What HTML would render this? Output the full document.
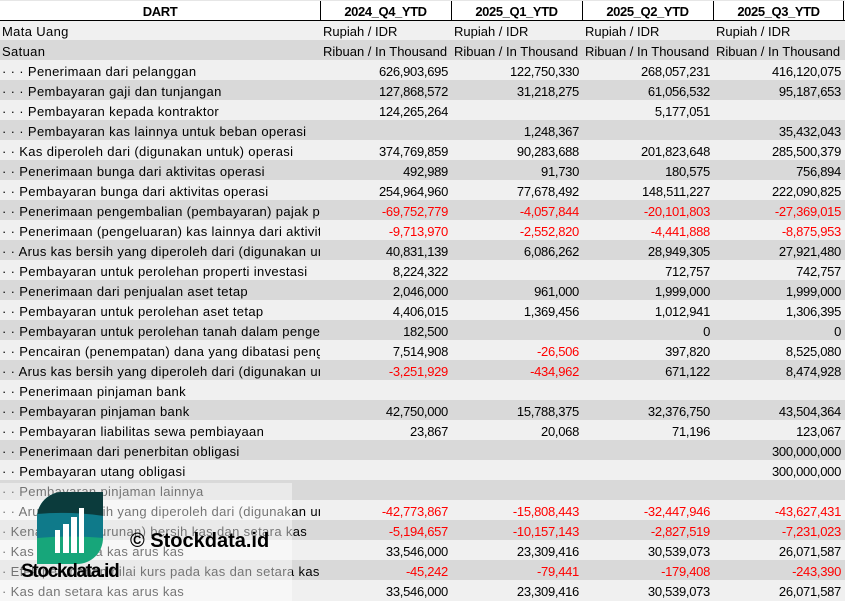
<!DOCTYPE html>
<html><head><meta charset="utf-8">
<style>
*{margin:0;padding:0;box-sizing:border-box;}
html,body{width:845px;height:601px;overflow:hidden;background:#f0f0f0;}
body{position:relative;font-family:"Liberation Sans",Arial,sans-serif;font-size:13px;color:#000;}
.row{position:absolute;left:0;width:845px;height:20px;}
.l{background:#f0f0f0;}
.d{background:#d9d9d9;}
.c{position:absolute;top:0;height:20px;line-height:24px;white-space:nowrap;overflow:hidden;}
.lab{left:0;width:320px;padding-left:2px;letter-spacing:0.35px;}
.v{width:131px;text-align:right;padding-right:3px;letter-spacing:-0.3px;}
.t{width:131px;text-align:left;padding-left:3px;}
.c1{left:320px;}.c2{left:451px;}.c3{left:582px;}.c4{left:713px;}
.r{color:#ff0000;}
#hdr{position:absolute;left:0;top:0;width:845px;height:21px;background:#fff;border-top:1px solid #e6e6e6;border-bottom:1px solid #000;}
.h{position:absolute;top:0;height:20px;line-height:22px;text-align:center;font-weight:bold;letter-spacing:-0.4px;}
.vl{position:absolute;top:1px;width:1px;height:19px;background:#000;}
#ov{position:absolute;left:0;top:483px;width:292px;height:118px;background:rgba(255,255,255,0.45);}
#logo{position:absolute;left:37px;top:492px;}
#wm1{position:absolute;left:21px;top:561px;font-weight:bold;font-size:19px;letter-spacing:-1.3px;line-height:22px;color:#000;}
#wm2{position:absolute;left:130px;top:529px;font-weight:bold;font-size:20px;line-height:24px;color:#000;}
</style></head><body>

<div class="row l" style="top:20px"><div class="c lab">Mata Uang</div><div class="c t c1">Rupiah / IDR</div><div class="c t c2">Rupiah / IDR</div><div class="c t c3">Rupiah / IDR</div><div class="c t c4">Rupiah / IDR</div></div>
<div class="row d" style="top:40px"><div class="c lab">Satuan</div><div class="c t c1">Ribuan / In Thousand</div><div class="c t c2">Ribuan / In Thousand</div><div class="c t c3">Ribuan / In Thousand</div><div class="c t c4">Ribuan / In Thousand</div></div>
<div class="row l" style="top:60px"><div class="c lab">· · · Penerimaan dari pelanggan</div><div class="c v c1">626,903,695</div><div class="c v c2">122,750,330</div><div class="c v c3">268,057,231</div><div class="c v c4">416,120,075</div></div>
<div class="row d" style="top:80px"><div class="c lab">· · · Pembayaran gaji dan tunjangan</div><div class="c v c1">127,868,572</div><div class="c v c2">31,218,275</div><div class="c v c3">61,056,532</div><div class="c v c4">95,187,653</div></div>
<div class="row l" style="top:100px"><div class="c lab">· · · Pembayaran kepada kontraktor</div><div class="c v c1">124,265,264</div><div class="c v c2"></div><div class="c v c3">5,177,051</div><div class="c v c4"></div></div>
<div class="row d" style="top:120px"><div class="c lab">· · · Pembayaran kas lainnya untuk beban operasi</div><div class="c v c1"></div><div class="c v c2">1,248,367</div><div class="c v c3"></div><div class="c v c4">35,432,043</div></div>
<div class="row l" style="top:140px"><div class="c lab">· · Kas diperoleh dari (digunakan untuk) operasi</div><div class="c v c1">374,769,859</div><div class="c v c2">90,283,688</div><div class="c v c3">201,823,648</div><div class="c v c4">285,500,379</div></div>
<div class="row d" style="top:160px"><div class="c lab">· · Penerimaan bunga dari aktivitas operasi</div><div class="c v c1">492,989</div><div class="c v c2">91,730</div><div class="c v c3">180,575</div><div class="c v c4">756,894</div></div>
<div class="row l" style="top:180px"><div class="c lab">· · Pembayaran bunga dari aktivitas operasi</div><div class="c v c1">254,964,960</div><div class="c v c2">77,678,492</div><div class="c v c3">148,511,227</div><div class="c v c4">222,090,825</div></div>
<div class="row d" style="top:200px"><div class="c lab">· · Penerimaan pengembalian (pembayaran) pajak penghasilan</div><div class="c v c1 r">-69,752,779</div><div class="c v c2 r">-4,057,844</div><div class="c v c3 r">-20,101,803</div><div class="c v c4 r">-27,369,015</div></div>
<div class="row l" style="top:220px"><div class="c lab">· · Penerimaan (pengeluaran) kas lainnya dari aktivitas operasi</div><div class="c v c1 r">-9,713,970</div><div class="c v c2 r">-2,552,820</div><div class="c v c3 r">-4,441,888</div><div class="c v c4 r">-8,875,953</div></div>
<div class="row d" style="top:240px"><div class="c lab">· · Arus kas bersih yang diperoleh dari (digunakan untuk) aktivitas operasi</div><div class="c v c1">40,831,139</div><div class="c v c2">6,086,262</div><div class="c v c3">28,949,305</div><div class="c v c4">27,921,480</div></div>
<div class="row l" style="top:260px"><div class="c lab">· · Pembayaran untuk perolehan properti investasi</div><div class="c v c1">8,224,322</div><div class="c v c2"></div><div class="c v c3">712,757</div><div class="c v c4">742,757</div></div>
<div class="row d" style="top:280px"><div class="c lab">· · Penerimaan dari penjualan aset tetap</div><div class="c v c1">2,046,000</div><div class="c v c2">961,000</div><div class="c v c3">1,999,000</div><div class="c v c4">1,999,000</div></div>
<div class="row l" style="top:300px"><div class="c lab">· · Pembayaran untuk perolehan aset tetap</div><div class="c v c1">4,406,015</div><div class="c v c2">1,369,456</div><div class="c v c3">1,012,941</div><div class="c v c4">1,306,395</div></div>
<div class="row d" style="top:320px"><div class="c lab">· · Pembayaran untuk perolehan tanah dalam pengembangan</div><div class="c v c1">182,500</div><div class="c v c2"></div><div class="c v c3">0</div><div class="c v c4">0</div></div>
<div class="row l" style="top:340px"><div class="c lab">· · Pencairan (penempatan) dana yang dibatasi penggunaannya</div><div class="c v c1">7,514,908</div><div class="c v c2 r">-26,506</div><div class="c v c3">397,820</div><div class="c v c4">8,525,080</div></div>
<div class="row d" style="top:360px"><div class="c lab">· · Arus kas bersih yang diperoleh dari (digunakan untuk) aktivitas investasi</div><div class="c v c1 r">-3,251,929</div><div class="c v c2 r">-434,962</div><div class="c v c3">671,122</div><div class="c v c4">8,474,928</div></div>
<div class="row l" style="top:380px"><div class="c lab">· · Penerimaan pinjaman bank</div></div>
<div class="row d" style="top:400px"><div class="c lab">· · Pembayaran pinjaman bank</div><div class="c v c1">42,750,000</div><div class="c v c2">15,788,375</div><div class="c v c3">32,376,750</div><div class="c v c4">43,504,364</div></div>
<div class="row l" style="top:420px"><div class="c lab">· · Pembayaran liabilitas sewa pembiayaan</div><div class="c v c1">23,867</div><div class="c v c2">20,068</div><div class="c v c3">71,196</div><div class="c v c4">123,067</div></div>
<div class="row d" style="top:440px"><div class="c lab">· · Penerimaan dari penerbitan obligasi</div><div class="c v c4">300,000,000</div></div>
<div class="row l" style="top:460px"><div class="c lab">· · Pembayaran utang obligasi</div><div class="c v c4">300,000,000</div></div>
<div class="row d" style="top:480px"><div class="c lab">· · Pembayaran pinjaman lainnya</div></div>
<div class="row l" style="top:500px"><div class="c lab">· · Arus kas bersih yang diperoleh dari (digunakan untuk) aktivitas pendanaan</div><div class="c v c1 r">-42,773,867</div><div class="c v c2 r">-15,808,443</div><div class="c v c3 r">-32,447,946</div><div class="c v c4 r">-43,627,431</div></div>
<div class="row d" style="top:520px"><div class="c lab">· Kenaikan (penurunan) bersih kas dan setara kas</div><div class="c v c1 r">-5,194,657</div><div class="c v c2 r">-10,157,143</div><div class="c v c3 r">-2,827,519</div><div class="c v c4 r">-7,231,023</div></div>
<div class="row l" style="top:540px"><div class="c lab">· Kas dan setara kas arus kas</div><div class="c v c1">33,546,000</div><div class="c v c2">23,309,416</div><div class="c v c3">30,539,073</div><div class="c v c4">26,071,587</div></div>
<div class="row d" style="top:560px"><div class="c lab">· Efek perubahan nilai kurs pada kas dan setara kas</div><div class="c v c1 r">-45,242</div><div class="c v c2 r">-79,441</div><div class="c v c3 r">-179,408</div><div class="c v c4 r">-243,390</div></div>
<div class="row l" style="top:580px"><div class="c lab">· Kas dan setara kas arus kas</div><div class="c v c1">33,546,000</div><div class="c v c2">23,309,416</div><div class="c v c3">30,539,073</div><div class="c v c4">26,071,587</div></div>

<div id="hdr">
  <div class="h" style="left:0;width:320px;">DART</div>
  <div class="h" style="left:320px;width:131px;">2024_Q4_YTD</div>
  <div class="h" style="left:451px;width:131px;">2025_Q1_YTD</div>
  <div class="h" style="left:582px;width:131px;">2025_Q2_YTD</div>
  <div class="h" style="left:713px;width:131px;">2025_Q3_YTD</div>
  <div class="vl" style="left:320px;top:0"></div>
  <div class="vl" style="left:451px;top:0"></div>
  <div class="vl" style="left:582px;top:0"></div>
  <div class="vl" style="left:713px;top:0"></div>
  <div class="vl" style="left:843px;top:0"></div>
</div>

<div id="ov"></div>
<svg id="logo" width="67" height="73" viewBox="0 0 67 73">
  <defs><clipPath id="lf"><path d="M26,0 H66 V46 A26,26 0 0 1 40,72 H0 V26 A26,26 0 0 1 26,0 Z"/></clipPath></defs>
  <g clip-path="url(#lf)">
    <rect x="0" y="0" width="67" height="73" fill="#17a67a"/>
    <path d="M0,0 H67 V46 Q33,43 0,46 Z" fill="#0f7a8a"/>
    <path d="M0,0 H67 V24 Q33,19 0,22 Z" fill="#0b3b3c"/>
  </g>
  <rect x="18" y="38" width="5" height="23" fill="#fff"/>
  <rect x="26" y="32" width="6" height="29" fill="#fff"/>
  <rect x="34" y="25" width="6" height="36" fill="#fff"/>
  <rect x="42" y="16" width="5" height="45" fill="#fff"/>
</svg>
<div id="wm1">Stockdata.id</div>
<div id="wm2">© Stockdata.id</div>
</body></html>
